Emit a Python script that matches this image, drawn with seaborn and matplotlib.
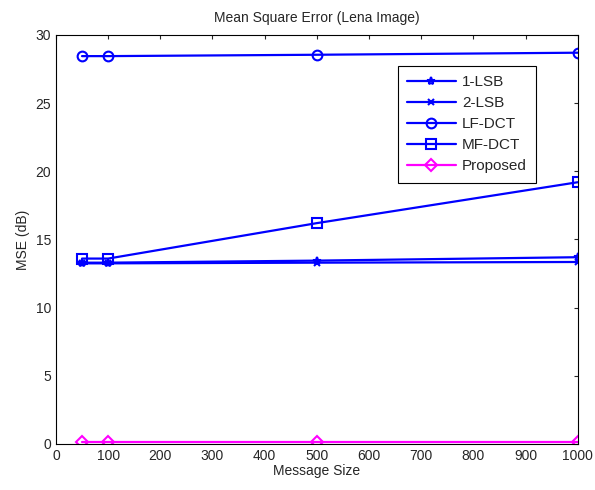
import matplotlib
matplotlib.use("Agg")
import matplotlib.pyplot as plt
import seaborn as sns
import pandas as pd

sns.set_style("white")
plt.rcParams['font.family'] = ['Liberation Sans', 'DejaVu Sans']

message_size = [50, 100, 500, 1000]
lsb1 = [13.3, 13.3, 13.45, 13.7]
lsb2 = [13.25, 13.25, 13.3, 13.35]
lf_dct = [28.45, 28.45, 28.55, 28.7]
mf_dct = [13.6, 13.6, 16.2, 19.2]
proposed = [0.12, 0.12, 0.12, 0.12]

series = {
    "1-LSB": (lsb1, "blue", "*", 6),
    "2-LSB": (lsb2, "blue", "x", 4),
    "LF-DCT": (lf_dct, "blue", "o", 7),
    "MF-DCT": (mf_dct, "blue", "s", 7),
    "Proposed": (proposed, "magenta", "D", 6),
}

fig = plt.figure(figsize=(5.95, 4.9), dpi=100)
ax = fig.add_axes([0.094, 0.0939, 0.877, 0.8347])

for name, (vals, color, marker, msize) in series.items():
    df = pd.DataFrame({"size": message_size, "mse": vals})
    sns.lineplot(data=df, x="size", y="mse", ax=ax, color=color, marker=marker,
                 markersize=msize, markerfacecolor="none", markeredgecolor=color,
                 markeredgewidth=1.5, linewidth=1.6, label=name)

ax.set_xlim(0, 1000)
ax.set_ylim(0, 30)
ax.set_xticks(range(0, 1001, 100))
ax.set_yticks(range(0, 31, 5))
ax.tick_params(direction="in", top=True, right=True, length=3, labelsize=10, width=0.8)
for sp in ax.spines.values():
    sp.set_visible(True)
    sp.set_color("black")
    sp.set_linewidth(0.8)

ax.set_xlabel("Message Size", fontsize=10, labelpad=1)
ax.set_ylabel("MSE (dB)", fontsize=10, labelpad=4)
ax.set_title("Mean Square Error (Lena Image)", fontsize=10, pad=9)

leg = ax.legend(loc="upper left", bbox_to_anchor=(0.655, 0.924), borderaxespad=0,
                fontsize=11, frameon=True, fancybox=False, edgecolor="black",
                framealpha=1, borderpad=0.6, labelspacing=0.46, handlelength=3.2,
                handletextpad=0.42)
leg.get_frame().set_linewidth(0.8)

fig.savefig("out.png", dpi=100)
